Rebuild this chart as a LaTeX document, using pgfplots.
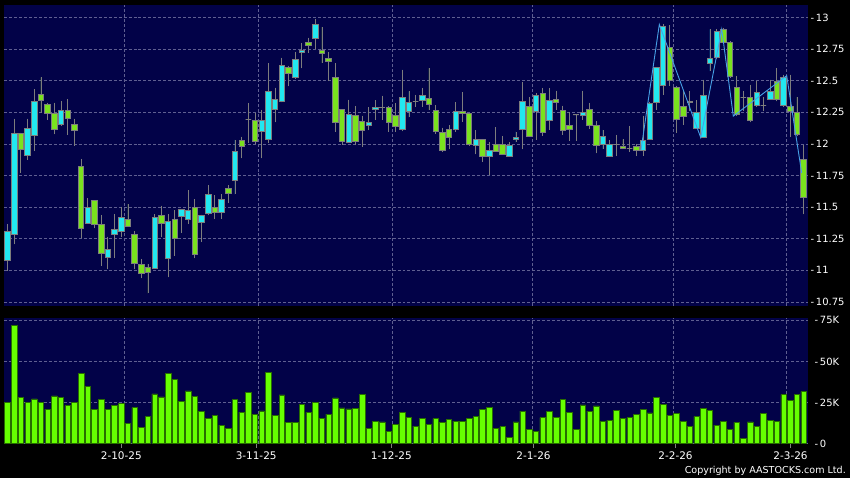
\documentclass[border=0pt]{standalone}
\usepackage{fontspec}
\setmainfont{DejaVu Sans}
\usepackage{pgfplots}
\usepackage{pgfplotstable}
\pgfplotsset{compat=1.18}
\usepgfplotslibrary{statistics}

\definecolor{bgnavy}{RGB}{2,2,72}
\definecolor{gridc}{RGB}{95,95,145}
\definecolor{upc}{RGB}{34,232,240}
\definecolor{dnc}{RGB}{122,226,30}
\definecolor{flatc}{RGB}{150,150,150}
\definecolor{edgec}{RGB}{125,125,125}
\definecolor{volg}{RGB}{102,255,0}
\definecolor{voledge}{RGB}{40,110,0}
\definecolor{zzc}{RGB}{70,160,230}

% daily candles: index, open, high, low, close
\pgfplotstableread{
i o h l c
0 11.075 11.367 10.995 11.308
1 11.285 12.20 11.205 12.081
2 12.08 12.09 11.77 11.953
3 11.906 12.20 11.876 12.12
4 12.065 12.434 11.943 12.335
5 12.391 12.527 12.248 12.341
6 12.312 12.327 12.19 12.243
7 12.24 12.327 12.075 12.113
8 12.152 12.34 12.15 12.269
9 12.269 12.354 12.073 12.20
10 12.152 12.20 11.985 12.11
11 11.826 11.882 11.253 11.332
12 11.372 11.571 11.367 11.50
13 11.555 11.555 11.332 11.367
14 11.364 11.438 11.035 11.133
15 11.101 11.266 11.008 11.165
16 11.285 11.446 11.101 11.324
17 11.308 11.505 11.266 11.42
18 11.404 11.526 11.346 11.346
19 11.285 11.311 11.008 11.054
20 11.045 11.09 10.936 10.976
21 11.027 11.05 10.817 10.984
22 11.016 11.443 11.01 11.416
23 11.438 11.512 11.263 11.369
24 11.098 11.443 10.944 11.385
25 11.40 11.475 11.117 11.255
26 11.43 11.48 11.294 11.48
27 11.406 11.634 11.369 11.472
28 11.496 11.562 11.095 11.127
29 11.382 11.44 11.223 11.432
30 11.448 11.674 11.435 11.602
31 11.499 11.594 11.406 11.456
32 11.456 11.602 11.41 11.56
33 11.65 11.674 11.533 11.605
34 11.711 12.032 11.60 11.942
35 12.029 12.058 11.886 11.981
36 12.194 12.324 12.011 12.194
37 12.188 12.244 11.997 12.019
38 12.101 12.27 11.886 12.188
39 12.032 12.637 12.01 12.414
40 12.276 12.446 12.17 12.35
41 12.34 12.682 12.329 12.618
42 12.602 12.62 12.456 12.56
43 12.523 12.729 12.52 12.671
44 12.721 12.80 12.597 12.737
45 12.80 12.84 12.72 12.78
46 12.838 12.992 12.753 12.944
47 12.737 12.923 12.642 12.719
48 12.674 12.727 12.496 12.655
49 12.523 12.637 12.098 12.172
50 12.271 12.275 11.992 12.019
51 12.013 12.35 12.01 12.236
52 12.225 12.30 11.99 12.019
53 12.18 12.223 11.979 12.109
54 12.149 12.292 12.109 12.172
55 12.273 12.345 12.19 12.292
56 12.292 12.382 12.19 12.292
57 12.292 12.30 12.098 12.17
58 12.225 12.324 12.098 12.14
59 12.116 12.587 12.10 12.37
60 12.256 12.415 12.211 12.33
61 12.338 12.389 12.296 12.338
62 12.341 12.444 12.296 12.386
63 12.362 12.60 12.269 12.309
64 12.267 12.304 12.078 12.097
65 12.092 12.129 11.938 11.951
66 12.116 12.147 11.957 12.052
67 12.116 12.328 12.097 12.256
68 12.256 12.407 12.177 12.238
69 12.238 12.24 11.983 11.999
70 11.988 12.11 11.917 12.036
71 12.036 12.04 11.858 11.904
72 11.904 12.015 11.752 11.951
73 11.996 12.131 11.935 11.943
74 11.996 12.063 11.914 11.919
75 11.904 12.012 11.90 11.988
76 12.036 12.097 12.012 12.052
77 12.116 12.487 11.957 12.338
78 12.296 12.37 12.057 12.063
79 12.257 12.40 12.032 12.38
80 12.403 12.443 12.064 12.09
81 12.188 12.443 12.111 12.345
82 12.35 12.422 12.271 12.329
83 12.263 12.302 12.072 12.106
84 12.143 12.252 12.027 12.117
85 12.231 12.235 12.027 12.231
86 12.225 12.422 12.191 12.252
87 12.276 12.324 12.117 12.149
88 12.143 12.178 11.926 11.992
89 11.997 12.111 11.958 12.056
90 11.904 12.03 11.904 11.997
91 11.997 12.072 11.904 11.997
92 11.984 12.037 11.958 11.966
93 11.966 12.138 11.939 11.966
94 11.984 12.0 11.904 11.952
95 11.952 12.223 11.904 12.027
96 12.037 12.329 12.037 12.318
97 12.332 12.602 12.271 12.602
98 12.462 12.95 12.39 12.928
99 12.761 12.94 12.462 12.504
100 12.451 12.46 12.09 12.196
101 12.297 12.416 12.151 12.218
102 12.326 12.416 12.257 12.337
103 12.119 12.345 12.119 12.252
104 12.053 12.509 12.053 12.387
105 12.637 12.907 12.576 12.674
106 12.682 12.907 12.68 12.889
107 12.902 12.92 12.80 12.801
108 12.801 12.814 12.523 12.531
109 12.448 12.536 12.223 12.231
110 12.371 12.42 12.26 12.371
111 12.371 12.47 12.17 12.183
112 12.302 12.496 12.30 12.408
113 12.305 12.37 12.257 12.305
114 12.35 12.509 12.35 12.416
115 12.496 12.602 12.337 12.35
116 12.302 12.549 12.30 12.523
117 12.297 12.549 12.058 12.255
118 12.249 12.371 12.07 12.072
119 11.878 11.992 11.443 11.576
}\candles

% volume in thousands
\pgfplotstableread{
i v
0 25.3
1 71.9
2 28.1
3 25.3
4 27.3
5 25.1
6 21.0
7 29.1
8 28.1
9 23.2
10 25.1
11 42.6
12 34.8
13 21.0
14 27.1
15 20.8
16 23.2
17 24.5
18 12.3
19 22.0
20 9.7
21 16.4
22 30.3
23 28.5
24 42.6
25 39.0
26 25.9
27 32.1
28 28.7
29 19.6
30 15.2
31 17.2
32 11.3
33 9.1
34 27.1
35 19.2
36 31.1
37 17.8
38 20.0
39 43.2
40 17.0
41 29.7
42 12.9
43 13.1
44 23.8
45 19.0
46 24.9
47 15.6
48 18.0
49 27.9
50 21.8
51 21.2
52 21.6
53 29.9
54 9.3
55 13.7
56 13.3
57 7.7
58 11.9
59 19.2
60 16.0
61 10.7
62 15.6
63 11.9
64 15.2
65 13.1
66 14.8
67 13.7
68 13.5
69 15.4
70 16.8
71 20.8
72 22.2
73 9.1
74 10.3
75 3.6
76 13.3
77 19.8
78 8.9
79 7.7
80 15.8
81 19.8
82 15.8
83 26.9
84 19.0
85 8.7
86 23.6
87 19.8
88 23.0
89 13.5
90 14.3
91 20.2
92 15.4
93 15.8
94 18.0
95 20.8
96 18.8
97 28.1
98 24.0
99 17.4
100 18.6
101 13.5
102 10.5
103 16.4
104 21.4
105 20.4
106 11.3
107 13.7
108 8.5
109 12.9
110 3.4
111 13.3
112 10.7
113 18.6
114 14.1
115 13.7
116 29.9
117 26.5
118 30.1
119 31.7
}\volume

\pgfplotsset{
  chartbase/.style={
    scale only axis,
    width=803.5bp,
    xmin=-0.523, xmax=119.58,
    axis background/.style={fill=bgnavy},
    axis line style={draw=none},
    grid style={densely dashed, gridc, line width=0.6bp},
    ytick pos=right,
    yticklabel pos=right,
    ytick style={draw=none},
    tick label style={white, font=\fontsize{10}{12}\selectfont},
    yticklabel style={anchor=west, inner sep=0pt, xshift=3bp},
    /pgf/number format/assume math mode=true,
  },
}

\begin{document}
\begin{tikzpicture}
\fill[black] (0,0) rectangle (850bp,478bp);

\begin{axis}[
    chartbase,
    at={(4bp,172bp)}, anchor=south west,
    height=301bp,
    ymin=10.718, ymax=13.099,
    xtick={17.46,37.55,57.52,78.45,99.52,116.37},
    xticklabels={},
    xtick style={draw=none},
    ytick={10.75,11,11.25,11.5,11.75,12,12.25,12.5,12.75,13},
    yticklabel={-\,\pgfmathprintnumber{\tick}},
    xmajorgrids, ymajorgrids,
    boxplot/draw direction=y,
    boxplot/box extend=0.82,
    boxplot/whisker extend=0,
]
\pgfplotsinvokeforeach{0,...,119}{%
  \pgfplotstablegetelem{#1}{o}\of\candles \let\co\pgfplotsretval
  \pgfplotstablegetelem{#1}{h}\of\candles \let\ch\pgfplotsretval
  \pgfplotstablegetelem{#1}{l}\of\candles \let\cl\pgfplotsretval
  \pgfplotstablegetelem{#1}{c}\of\candles \let\cc\pgfplotsretval
  \pgfmathsetmacro\lo{min(\co,\cc)}
  \pgfmathsetmacro\hi{max(\co,\cc)}
  \ifdim\cc pt>\co pt \def\col{upc}\else
    \ifdim\cc pt<\co pt \def\col{dnc}\else \def\col{flatc}\fi\fi
  \edef\tmp{\noexpand\addplot[draw=edgec, line width=0.8bp, fill=\col,
    boxplot prepared={draw position=#1, lower whisker=\cl, lower quartile=\lo,
      median=\lo, upper quartile=\hi, upper whisker=\ch}] coordinates {};}
  \tmp
}
% zigzag line
\addplot[zzc, line width=0.9bp] coordinates {
  (94.69,11.95) (97.43,12.945) (103.62,12.05) (106.76,12.907)
  (108.49,12.22) (116.47,12.54) (118.71,11.77)
};
\end{axis}

\begin{axis}[
    chartbase,
    at={(4bp,34.3bp)}, anchor=south west,
    height=125.4bp,
    ymin=0, ymax=76.3,
    xtick={17.01,37.17,57.37,78.62,99.85,117.04},
    xticklabels={2-10-25,3-11-25,1-12-25,2-1-26,2-2-26,2-3-26},
    xtick pos=bottom,
    xtick style={draw=gray, line width=0.8bp},
    tick align=outside,
    major tick length=4bp,
    minor xtick={17.46,37.55,57.52,78.45,99.52,116.37},
    minor tick length=0pt,
    xminorgrids, ymajorgrids,
    minor grid style={densely dashed, gridc, line width=0.6bp},
    ytick={0,25,50,75},
    yticklabels={-\,0,-\,25K,-\,50K,-\,75K},
    xticklabel style={yshift=-1bp, font=\fontsize{10.5}{12}\selectfont},
]
\addplot[ybar, bar width=0.82, fill=volg, draw=voledge, line width=0.6bp]
  table[x=i, y=v] {\volume};
\end{axis}

\node[anchor=south east, white, inner sep=0pt, font=\fontsize{9.6}{11}\selectfont]
  at (846bp,2bp) {Copyright by AASTOCKS.com Ltd.};

\pgfresetboundingbox
\useasboundingbox (0,0) rectangle (850bp,478bp);
\end{tikzpicture}
\end{document}
